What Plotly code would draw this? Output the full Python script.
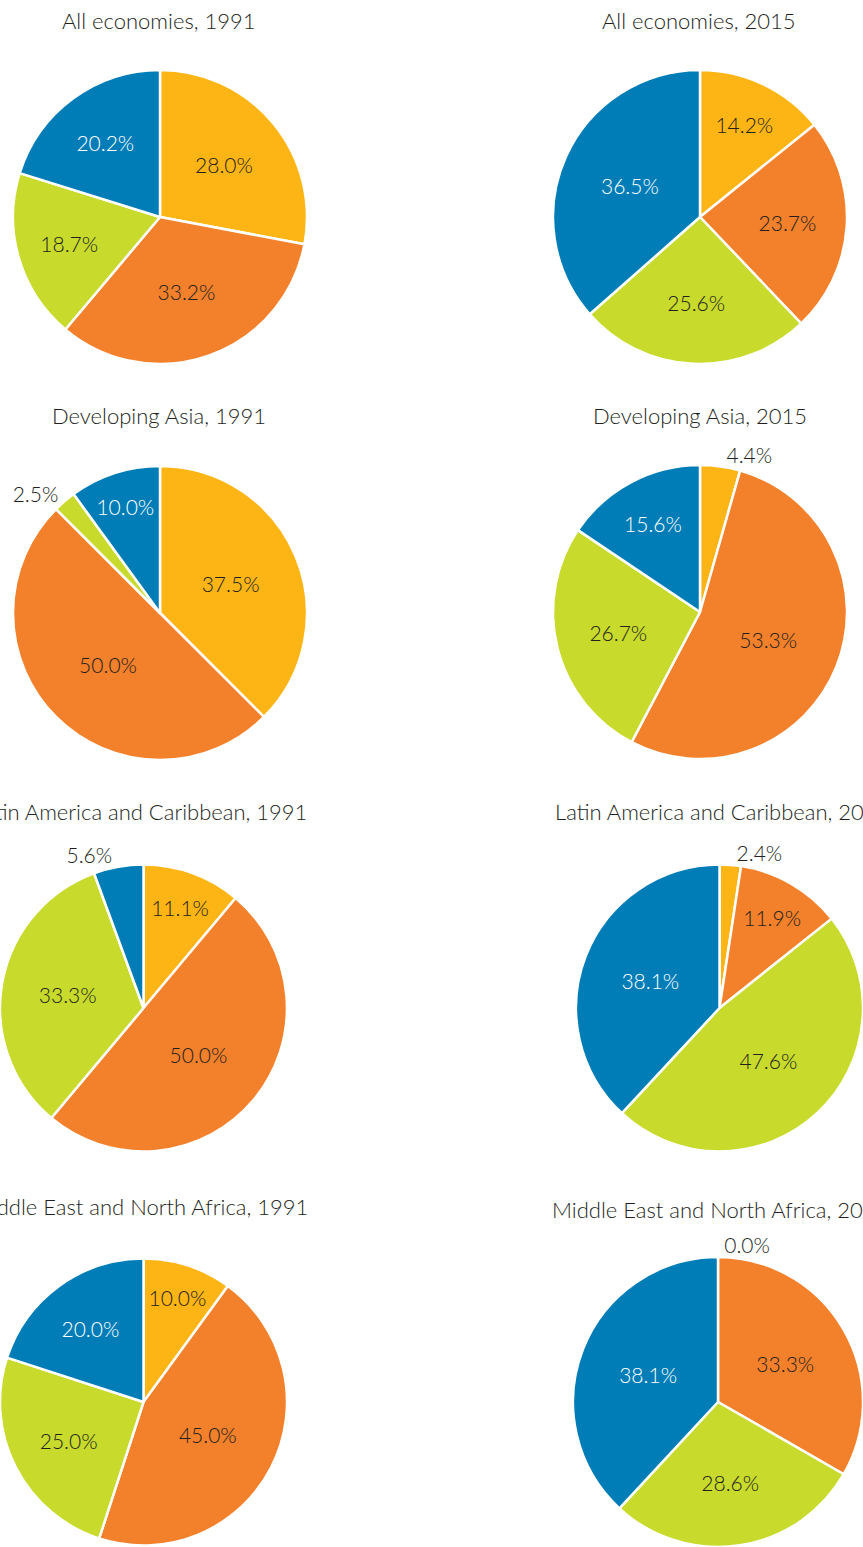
import plotly.graph_objects as go

# ---------------- data ----------------
categories = ["Group A", "Group B", "Group C", "Group D"]

titles = [
    "All economies, 1991", "All economies, 2015",
    "Developing Asia, 1991", "Developing Asia, 2015",
    "Latin America and Caribbean, 1991", "Latin America and Caribbean, 2015",
    "Middle East and North Africa, 1991", "Middle East and North Africa, 2015",
]

all_1991 = [28.0, 33.2, 18.7, 20.2]
all_2015 = [14.2, 23.7, 25.6, 36.5]
asia_1991 = [37.5, 50.0, 2.5, 10.0]
asia_2015 = [4.4, 53.3, 26.7, 15.6]
lac_1991 = [11.1, 50.0, 33.3, 5.6]
lac_2015 = [2.4, 11.9, 47.6, 38.1]
mena_1991 = [10.0, 45.0, 25.0, 20.0]
mena_2015 = [0.0, 33.3, 28.6, 38.1]

series = [all_1991, all_2015, asia_1991, asia_2015,
          lac_1991, lac_2015, mena_1991, mena_2015]

# ---------------- style / layout ----------------
colors = ["#FDB515", "#F3802B", "#C8DA2B", "#007DB7"]
inside_text_colors = ["#231F20", "#231F20", "#231F20", "#FFFFFF"]
FONT = "Lato, 'Open Sans', sans-serif"

W, H = 863, 1547
# pie centres and radii in pixels
centers = [
    (160, 217), (700, 217),
    (160, 613), (700, 612),
    (143.5, 1008), (719.5, 1008),
    (143.5, 1402), (718, 1402),
]
radii = [147, 147, 147, 147, 143.5, 143.5, 143.5, 145]
title_pos = [
    (158.5, 20.5), (699, 20.5),
    (158.5, 415.5), (699.5, 415.5),
    (140, 811), (722, 811),
    (140, 1206), (720, 1209),
]

fig = go.Figure()
for vals, (cx, cy), r in zip(series, centers, radii):
    x0 = max(0.0, (cx - r) / W)
    x1 = min(1.0, (cx + r) / W)
    y0 = max(0.0, 1 - (cy + r) / H)
    y1 = min(1.0, 1 - (cy - r) / H)
    positions = ["outside" if v < 6 else "inside" for v in vals]
    fig.add_trace(go.Pie(
        labels=categories,
        values=vals,
        sort=False,
        direction="clockwise",
        rotation=0,
        marker=dict(colors=colors, line=dict(color="white", width=2.5)),
        texttemplate="%{value:.1f}%",
        textposition=positions,
        insidetextorientation="horizontal",
        insidetextfont=dict(family=FONT, size=21, color=inside_text_colors, weight=300),
        outsidetextfont=dict(family=FONT, size=21, color="#231F20", weight=300),
        domain=dict(x=[x0, x1], y=[y0, y1]),
        hoverinfo="label+percent",
        showlegend=False,
    ))

for t, (tx, ty) in zip(titles, title_pos):
    fig.add_annotation(
        text=t, x=tx / W, y=1 - ty / H,
        xref="paper", yref="paper", xanchor="center", yanchor="middle",
        showarrow=False,
        font=dict(family=FONT, size=22, color="#231F20", weight=300),
    )

fig.update_layout(
    width=W, height=H, autosize=False,
    margin=dict(l=0, r=0, t=0, b=0, autoexpand=False),
    paper_bgcolor="white", plot_bgcolor="white",
    showlegend=False,
)

post = ("document.body.style.margin='0';"
        "document.body.style.overflow='hidden';")
fig.write_html("out.html", post_script=post,
               config={"displayModeBar": False, "responsive": False})
